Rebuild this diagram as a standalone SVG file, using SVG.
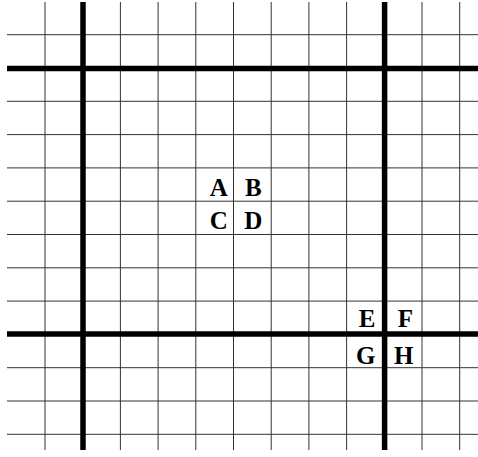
<svg xmlns="http://www.w3.org/2000/svg" width="478" height="457" viewBox="0 0 478 457">
<style>
.thin{stroke:#333;stroke-width:1;fill:none}
.thick{stroke:#000;stroke-width:5.5;fill:none}
.lbl{font-family:"Liberation Serif","Times New Roman",serif;font-weight:bold;font-size:25px;text-anchor:middle;fill:#000}
</style>
<rect width="478" height="457" fill="#fff"/>
<g id="connectors">
<g id="thin-vertical" class="thin">
<line x1="45" y1="2" x2="45" y2="450"/>
<line x1="120.4" y1="2" x2="120.4" y2="450"/>
<line x1="158.1" y1="2" x2="158.1" y2="450"/>
<line x1="195.8" y1="2" x2="195.8" y2="450"/>
<line x1="233.5" y1="2" x2="233.5" y2="450"/>
<line x1="271.2" y1="2" x2="271.2" y2="450"/>
<line x1="308.9" y1="2" x2="308.9" y2="450"/>
<line x1="346.6" y1="2" x2="346.6" y2="450"/>
<line x1="422" y1="2" x2="422" y2="450"/>
<line x1="459.7" y1="2" x2="459.7" y2="450"/>
</g>
<g id="thin-horizontal" class="thin">
<line x1="7" y1="34.7" x2="478" y2="34.7"/>
<line x1="7" y1="101.3" x2="478" y2="101.3"/>
<line x1="7" y1="134.6" x2="478" y2="134.6"/>
<line x1="7" y1="167.9" x2="478" y2="167.9"/>
<line x1="7" y1="201.2" x2="478" y2="201.2"/>
<line x1="7" y1="234.5" x2="478" y2="234.5"/>
<line x1="7" y1="267.8" x2="478" y2="267.8"/>
<line x1="7" y1="301.1" x2="478" y2="301.1"/>
<line x1="7" y1="367.7" x2="478" y2="367.7"/>
<line x1="7" y1="401" x2="478" y2="401"/>
<line x1="7" y1="434.3" x2="478" y2="434.3"/>
</g>
<g id="thick-lines" class="thick">
<line x1="83" y1="2" x2="83" y2="450"/>
<line x1="384.6" y1="2" x2="384.6" y2="450"/>
<line x1="7" y1="68.5" x2="478" y2="68.5"/>
<line x1="7" y1="334" x2="478" y2="334"/>
</g>
</g>
<g id="A"><text class="lbl" x="218.7" y="195.7">A</text></g>
<g id="B"><text class="lbl" x="253.3" y="195.7">B</text></g>
<g id="C"><text class="lbl" x="218.7" y="229">C</text></g>
<g id="D"><text class="lbl" x="253.3" y="229">D</text></g>
<g id="E"><text class="lbl" x="367" y="326.7">E</text></g>
<g id="F"><text class="lbl" x="405.5" y="326.7">F</text></g>
<g id="G"><text class="lbl" x="365.7" y="364">G</text></g>
<g id="H"><text class="lbl" x="403.7" y="364">H</text></g>
</svg>
